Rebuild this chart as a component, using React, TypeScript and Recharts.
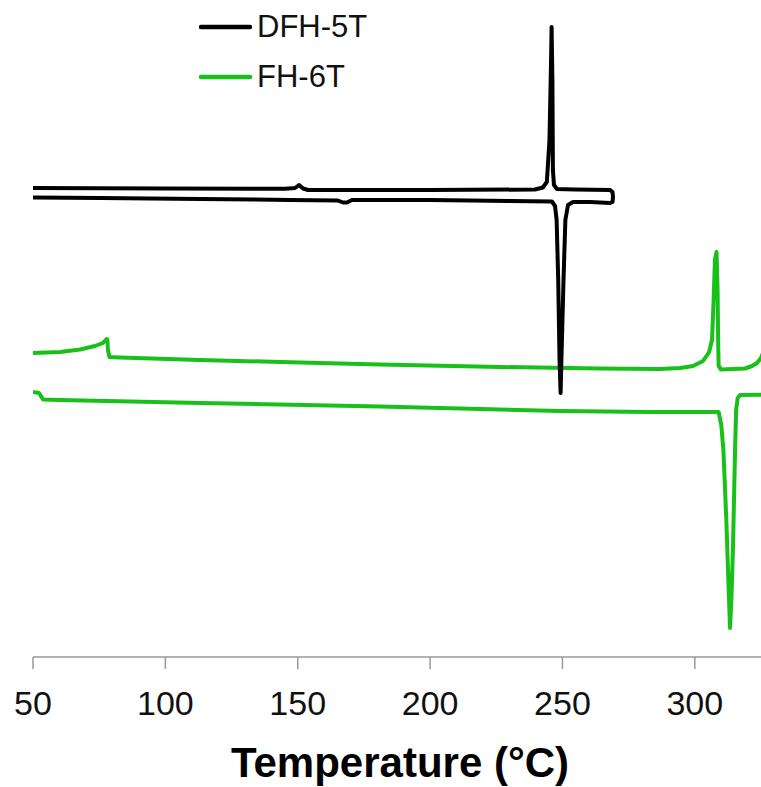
import { LineChart, Line, XAxis, YAxis, Legend, Label } from 'recharts'

// DFH-5T: heating trace then cooling trace (one closed loop)
const dfhTemp = [
  50, 99.9, 145.2, 149, 150.5, 152, 153.9, 200, 239.6, 242.6, 244.1, 245.1, 245.7, 245.9, 246.2, 246.4,
  246.8, 247.9, 254.7, 268, 268.9, 269.1, 268.9, 268, 260.4, 254, 252.1, 251.1, 250.4, 249.6, 249.3,
  248.9, 248.4, 247.8, 247.2, 246, 230.2, 200, 170.5, 168.6, 167.1, 165.2, 147.1, 113.1, 75.3, 50,
]
const dfhFlow = [
  46.9, 46.85, 46.82, 46.9, 47.2, 46.85, 46.7, 46.7, 46.75, 46.95, 47.5, 51.7, 59.7, 63, 57.7, 48.7,
  47.2, 46.8, 46.75, 46.7, 46.5, 46, 45.5, 45.4, 45.5, 45.5, 45.2, 43.7, 37.7, 29.7, 26.4,
  29.7, 37.7, 43.7, 45.1, 45.55, 45.6, 45.7, 45.7, 45.45, 45.45, 45.65, 45.7, 45.8, 45.9, 45.95,
]

// FH-6T: heating trace then cooling trace (loop closes past the right edge)
const fhTemp = [
  50, 60.2, 67.8, 73.4, 76.4, 77.8, 78.1, 78.3, 78.9, 82.9, 113.1, 150.9, 181.1, 226.4, 264.2, 286.8,
  294.4, 299.3, 303.1, 305.4, 306.5, 307.1, 307.6, 308.2, 308.6, 308.8, 309, 309.9, 319, 321.6, 323.5,
  325, 326.9, 330, 330, 317.1, 316.2, 315.6, 315.2, 314.4, 313.8, 313.3, 312.8, 311.9, 310.8, 310, 309,
  283.1, 249.1, 181.1, 113.1, 60.2, 53.8, 52.3, 50,
]
const fhFlow = [
  30.4, 30.5, 30.75, 31.1, 31.4, 31.8, 31.75, 30.7, 30, 29.95, 29.7, 29.45, 29.25, 29, 28.85, 28.8,
  28.9, 29.1, 29.6, 30.5, 31.7, 35.7, 39.7, 40.5, 36.7, 31.7, 29.1, 28.75, 28.85, 29.1, 29.4,
  29.9, 31.2, 31.5, 26.25, 26.2, 25.9, 24.7, 20.7, 10.7, 5.7, 2.9, 6.7, 13.7, 20.7, 23.2, 24.5,
  24.5, 24.6, 25.05, 25.4, 25.7, 25.75, 26.4, 26.5,
]

const xTicks = [50, 100, 150, 200, 250, 300]
const seriesNames = ['DFH-5T', 'FH-6T']
const seriesColors = ['#000000', '#19c019']

const toPoints = (temps: number[], flows: number[]) =>
  temps.map((t, i) => ({ temp: t, flow: flows[i] }))

const dfhData = toPoints(dfhTemp, dfhFlow)
const fhData = toPoints(fhTemp, fhFlow)

const renderLegend = () => (
  <div>
    {seriesNames.map((name, i) => (
      <div key={name} style={{ display: 'flex', alignItems: 'center', height: 50 }}>
        <svg width={53} height={8} style={{ display: 'block' }}>
          <line x1={2} y1={4} x2={51} y2={4} stroke={seriesColors[i]} strokeWidth={4.5} strokeLinecap="round" />
        </svg>
        <span style={{ marginLeft: 5, fontSize: 31, color: '#111' }}>{name}</span>
      </div>
    ))}
  </div>
)

export default function App() {
  return (
    <div style={{ position: 'absolute', left: 0, top: 0, fontFamily: "'Liberation Sans', Arial, sans-serif" }}>
      <LineChart width={761} height={787} margin={{ top: 17, right: 0, bottom: 0, left: 33 }}>
        <XAxis
          type="number"
          dataKey="temp"
          domain={[50, 325]}
          ticks={xTicks}
          allowDataOverflow
          height={130}
          stroke="#999"
          strokeWidth={1.5}
          tickSize={12}
          tickMargin={22}
          tick={{ fill: '#111', fontSize: 34 }}
        >
          <Label
            value="Temperature (°C)"
            position="insideBottom"
            offset={10}
            dx={3}
            fontSize={42}
            fontWeight="bold"
            fill="#000"
          />
        </XAxis>
        <YAxis type="number" dataKey="flow" domain={[0, 64]} hide />
        <Legend
          layout="vertical"
          align="center"
          verticalAlign="middle"
          content={renderLegend}
          wrapperStyle={{ top: 2, left: 199, width: 200 }}
        />
        <Line
          data={fhData}
          dataKey="flow"
          name="FH-6T"
          type="linear"
          stroke={seriesColors[1]}
          strokeWidth={4}
          strokeLinejoin="round"
          dot={false}
          isAnimationActive={false}
        />
        <Line
          data={dfhData}
          dataKey="flow"
          name="DFH-5T"
          type="linear"
          stroke={seriesColors[0]}
          strokeWidth={4}
          strokeLinejoin="round"
          dot={false}
          isAnimationActive={false}
        />
      </LineChart>
    </div>
  )
}
